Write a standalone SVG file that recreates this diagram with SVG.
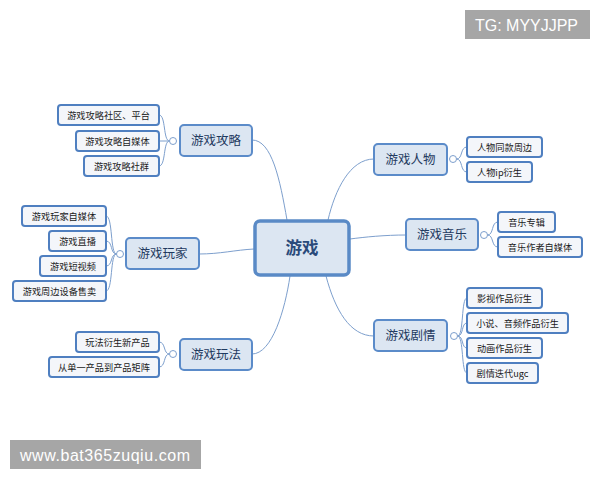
<svg xmlns="http://www.w3.org/2000/svg" width="600" height="480" viewBox="0 0 600 480">
<style>
.main rect{fill:#dce6f2;stroke:#5b8bc9;stroke-width:2}
.main text{font-family:"Noto Sans CJK SC","Liberation Sans",sans-serif;font-size:12.5px;fill:#1f3a5f;text-anchor:middle}
.sub rect{fill:#f4f6fa;stroke:#4f7fc0;stroke-width:2}
.sub text{font-family:"Noto Sans CJK SC","Liberation Sans",sans-serif;font-size:9.2px;fill:#1a1a1a;text-anchor:middle}
.conn path{fill:none;stroke:#7d9fcd;stroke-width:1}
.conn circle{fill:#ffffff;stroke:#7d9fcd;stroke-width:1}
.wm rect{fill:#a6a6a6}
.wm text{font-family:"Liberation Sans",Arial,sans-serif;font-size:16px;fill:#ffffff}
</style>
<rect width="600" height="480" fill="#ffffff"/>
<g id="connectors" class="conn">
<path d="M252,140 C272,140 280,180 287,220"/>
<path d="M199,254 C220,254 235,250 254,249"/>
<path d="M252,354 C272,354 285,310 290,276"/>
<path d="M374,159 C350,159 335,190 328,220"/>
<path d="M406,235 C385,235 365,237 350,239"/>
<path d="M374,336 C350,336 335,310 326,276"/>
<path d="M169.5,141 C163,141 166,115 159,115"/>
<path d="M169.5,141 L159,141"/>
<path d="M169.5,141 C163,141 166,166 159,166"/>
<path d="M116.5,254 C110,254 113,216 106,216"/>
<path d="M116.5,254 C110,254 113,241 106,241"/>
<path d="M116.5,254 C110,254 113,266 106,266"/>
<path d="M116.5,254 C110,254 113,291 106,291"/>
<path d="M169.5,354 C163,354 166,342 159,342"/>
<path d="M169.5,354 C163,354 166,367 159,367"/>
<path d="M456.5,159 C463,159 460,147 467,147"/>
<path d="M456.5,159 C463,159 460,172 467,172"/>
<path d="M487.5,235 C494,235 491,222 498,222"/>
<path d="M487.5,235 C494,235 491,247 498,247"/>
<path d="M457.5,336 C464,336 461,298 467,298"/>
<path d="M457.5,336 C464,336 461,323 467,323"/>
<path d="M457.5,336 C464,336 461,348 467,348"/>
<path d="M457.5,336 C464,336 461,373 467,373"/>
<circle cx="173" cy="141" r="3.5"/>
<circle cx="120" cy="254" r="3.5"/>
<circle cx="173" cy="354" r="3.5"/>
<circle cx="453" cy="159" r="3.5"/>
<circle cx="484" cy="235" r="3.5"/>
<circle cx="454" cy="336" r="3.5"/>
</g>
<g id="center">
<rect x="255" y="221" width="94" height="54" rx="5" fill="#dce6f2" stroke="#5a8ac6" stroke-width="3.5"/>
<text x="302" y="254" font-family="'Noto Sans CJK SC','Liberation Sans',sans-serif" font-size="16.5" font-weight="bold" fill="#2a4a7a" text-anchor="middle">游戏</text>
</g>
<g id="n-gonglue" class="main"><rect x="180" y="125" width="72" height="31" rx="4"/><text x="216" y="145">游戏攻略</text></g>
<g id="n-wanjia" class="main"><rect x="126" y="238" width="73" height="31" rx="4"/><text x="162.5" y="258">游戏玩家</text></g>
<g id="n-wanfa" class="main"><rect x="180" y="339" width="72" height="31" rx="4"/><text x="216" y="359">游戏玩法</text></g>
<g id="n-renwu" class="main"><rect x="374" y="144" width="73" height="31" rx="4"/><text x="410.5" y="164">游戏人物</text></g>
<g id="n-yinyue" class="main"><rect x="406" y="219" width="72" height="31" rx="4"/><text x="442" y="239">游戏音乐</text></g>
<g id="n-juqing" class="main"><rect x="374" y="320" width="73" height="31" rx="4"/><text x="410.5" y="340">游戏剧情</text></g>
<g id="s1" class="sub"><rect x="58" y="105" width="101" height="20" rx="3"/><text x="108.5" y="118.5">游戏攻略社区、平台</text></g>
<g id="s2" class="sub"><rect x="76" y="131" width="83" height="20" rx="3"/><text x="117.5" y="144.5">游戏攻略自媒体</text></g>
<g id="s3" class="sub"><rect x="84" y="156" width="75" height="20" rx="3"/><text x="121.5" y="169.5">游戏攻略社群</text></g>
<g id="s4" class="sub"><rect x="22" y="206" width="84" height="20" rx="3"/><text x="64" y="219.5">游戏玩家自媒体</text></g>
<g id="s5" class="sub"><rect x="49" y="231" width="57" height="20" rx="3"/><text x="77.5" y="244.5">游戏直播</text></g>
<g id="s6" class="sub"><rect x="40" y="256" width="66" height="20" rx="3"/><text x="73" y="269.5">游戏短视频</text></g>
<g id="s7" class="sub"><rect x="13" y="281" width="93" height="20" rx="3"/><text x="59.5" y="294.5">游戏周边设备售卖</text></g>
<g id="s8" class="sub"><rect x="76" y="332" width="83" height="20" rx="3"/><text x="117.5" y="345.5">玩法衍生新产品</text></g>
<g id="s9" class="sub"><rect x="49" y="357" width="110" height="20" rx="3"/><text x="104" y="370.5">从单一产品到产品矩阵</text></g>
<g id="s10" class="sub"><rect x="467" y="137" width="75" height="20" rx="3"/><text x="504.5" y="150.5">人物同款周边</text></g>
<g id="s11" class="sub"><rect x="467" y="162" width="65" height="20" rx="3"/><text x="499.5" y="175.5">人物ip衍生</text></g>
<g id="s12" class="sub"><rect x="498" y="212" width="57" height="20" rx="3"/><text x="526.5" y="225.5">音乐专辑</text></g>
<g id="s13" class="sub"><rect x="498" y="237" width="84" height="20" rx="3"/><text x="540" y="250.5">音乐作者自媒体</text></g>
<g id="s14" class="sub"><rect x="467" y="288" width="75" height="20" rx="3"/><text x="504.5" y="301.5">影视作品衍生</text></g>
<g id="s15" class="sub"><rect x="467" y="313" width="101" height="20" rx="3"/><text x="517.5" y="326.5">小说、音频作品衍生</text></g>
<g id="s16" class="sub"><rect x="467" y="338" width="75" height="20" rx="3"/><text x="504.5" y="351.5">动画作品衍生</text></g>
<g id="s17" class="sub"><rect x="467" y="363" width="71" height="20" rx="3"/><text x="502.5" y="376.5">剧情迭代ugc</text></g>
<g id="wm1" class="wm"><rect x="465" y="10" width="125" height="29"/><text x="475" y="30.5" textLength="103">TG: MYYJJPP</text></g>
<g id="wm2" class="wm"><rect x="10" y="440" width="191" height="29"/><text x="20" y="460.5" textLength="170">www.bat365zuqiu.com</text></g>
</svg>
